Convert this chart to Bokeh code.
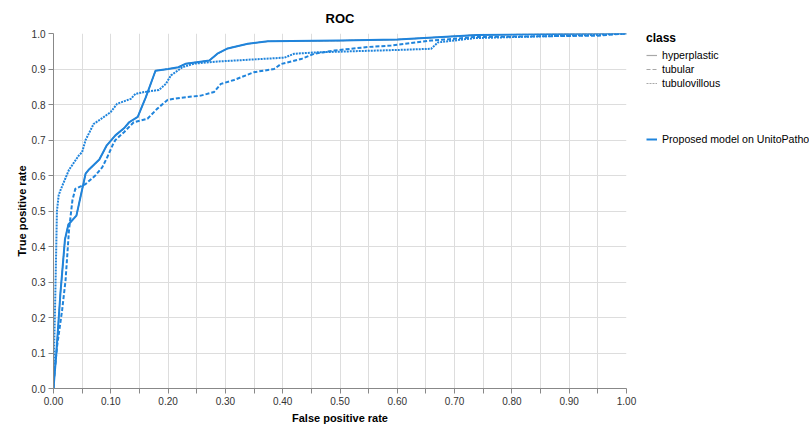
from bokeh.plotting import figure
from bokeh.models import FixedTicker, Legend, LegendItem, Range1d
from bokeh.embed import file_html
from bokeh.resources import INLINE

# ---- data ----
hyper_fpr = [0.0, 0.005, 0.012, 0.02, 0.026, 0.04, 0.056, 0.062, 0.08, 0.093, 0.108, 0.123,
             0.132, 0.147, 0.161, 0.178, 0.2, 0.218, 0.231, 0.272, 0.286, 0.304, 0.339, 0.374,
             0.5, 0.6, 0.74, 0.95, 1.0]
hyper_tpr = [0.0, 0.1, 0.267, 0.42, 0.462, 0.487, 0.605, 0.617, 0.645, 0.685, 0.713, 0.733,
             0.75, 0.765, 0.82, 0.895, 0.9, 0.905, 0.915, 0.924, 0.943, 0.958, 0.971, 0.978,
             0.98, 0.983, 0.996, 1.0, 1.0]

tub_fpr = [0.0, 0.001, 0.006, 0.015, 0.021, 0.027, 0.033, 0.038, 0.056, 0.073, 0.085, 0.094,
           0.103, 0.108, 0.123, 0.14, 0.164, 0.181, 0.199, 0.222, 0.257, 0.28, 0.292, 0.315,
           0.35, 0.385, 0.397, 0.432, 0.455, 0.49, 0.548, 0.589, 0.659, 0.7, 0.734, 0.95, 1.0]
tub_tpr = [0.0, 0.032, 0.116, 0.22, 0.304, 0.445, 0.53, 0.562, 0.576, 0.6, 0.623, 0.652,
           0.685, 0.7, 0.722, 0.75, 0.76, 0.788, 0.813, 0.819, 0.825, 0.835, 0.858, 0.869,
           0.891, 0.9, 0.914, 0.928, 0.943, 0.952, 0.962, 0.966, 0.98, 0.985, 0.99, 0.994, 1.0]

tv_fpr = [0.0, 0.001, 0.003, 0.006, 0.009, 0.012, 0.027, 0.044, 0.05, 0.056, 0.07, 0.088,
          0.1, 0.111, 0.135, 0.143, 0.158, 0.184, 0.196, 0.205, 0.225, 0.245, 0.286, 0.403,
          0.42, 0.461, 0.607, 0.659, 0.671, 0.735, 0.945, 1.0]
tv_tpr = [0.0, 0.107, 0.25, 0.5, 0.544, 0.558, 0.616, 0.656, 0.666, 0.7, 0.745, 0.765,
          0.779, 0.802, 0.816, 0.83, 0.835, 0.841, 0.858, 0.882, 0.905, 0.915, 0.921, 0.932,
          0.943, 0.947, 0.954, 0.957, 0.975, 0.987, 0.996, 1.0]

class_names = ["hyperplastic", "tubular", "tubulovillous"]
model_name = "Proposed model on UnitoPatho"
x_ticks = [round(i * 0.05, 2) for i in range(21)]
x_tick_labels = ["0.00", "", "0.10", "", "0.20", "", "0.30", "", "0.40", "", "0.50", "",
                 "0.60", "", "0.70", "", "0.80", "", "0.90", "", "1.00"]
y_ticks = [round(i * 0.1, 1) for i in range(11)]
y_tick_labels = ["0.0", "0.1", "0.2", "0.3", "0.4", "0.5", "0.6", "0.7", "0.8", "0.9", "1.0"]

BLUE = "#1f84dc"
GRAY = "#a8a8a8"
FONT = "Liberation Sans"
dashes = ["solid", "4 2", "2 1"]

p = figure(frame_width=573, frame_height=355, output_backend="svg", toolbar_location=None,
           x_range=Range1d(0, 1), y_range=Range1d(0, 1),
           min_border_left=53, min_border_right=183, min_border_top=33, min_border_bottom=36)
p.outline_line_color = None
p.background_fill_color = "white"
p.border_fill_color = "white"

p.title.text = "ROC"
p.title.align = "center"
p.title.vertical_align = "bottom"
p.title.text_font = FONT
p.title.text_font_size = "13px"
p.title.text_font_style = "bold"
p.title.text_color = "#000000"
p.title.offset = 0
p.title.standoff = 16

for ax in (p.xaxis[0], p.yaxis[0]):
    ax.axis_line_color = "#888888"
    ax.major_tick_line_color = "#888888"
    ax.minor_tick_line_color = None
    ax.major_tick_out = 5
    ax.major_tick_in = 0
    ax.major_label_text_font = FONT
    ax.major_label_text_font_size = "10px"
    ax.major_label_text_color = "#333333"
    ax.axis_label_text_font = FONT
    ax.axis_label_text_font_size = "11px"
    ax.axis_label_text_font_style = "bold"
    ax.axis_label_text_color = "#000000"

p.xaxis.ticker = FixedTicker(ticks=x_ticks)
p.xaxis.major_label_overrides = {t: l for t, l in zip(x_ticks, x_tick_labels)}
p.xaxis.axis_label = "False positive rate"
p.xaxis.major_label_standoff = 3
p.xaxis.axis_label_standoff = 4

p.yaxis.ticker = FixedTicker(ticks=y_ticks)
p.yaxis.major_label_overrides = {t: l for t, l in zip(y_ticks, y_tick_labels)}
p.yaxis.axis_label = "True positive rate"
p.yaxis.major_label_standoff = 3
p.yaxis.axis_label_standoff = 1

p.xgrid.ticker = FixedTicker(ticks=x_ticks)
p.ygrid.ticker = FixedTicker(ticks=y_ticks)
p.grid.grid_line_color = "#dddddd"
p.grid.grid_line_width = 1

# gray legend-sample lines, drawn first and hidden beneath the solid blue curve
items = []
for name, d in zip(class_names, dashes):
    r = p.line(hyper_fpr, hyper_tpr, line_color=GRAY, line_width=1.2, line_dash=d)
    items.append(LegendItem(label=name, renderers=[r]))

series = [(hyper_fpr, hyper_tpr), (tub_fpr, tub_tpr), (tv_fpr, tv_tpr)]
curve_renderers = []
for (xs, ys), d in zip(series, dashes):
    curve_renderers.append(
        p.line(xs, ys, line_color=BLUE, line_width=2, line_dash=d, line_join="round"))

blank = p.line(x=[], y=[], line_alpha=0)
for _ in range(3):
    items.append(LegendItem(label=" ", renderers=[blank]))
items.append(LegendItem(label=model_name, renderers=[curve_renderers[0]]))

leg = Legend(items=items, location=(20, 242), title="class")
leg.border_line_alpha = 0
leg.background_fill_alpha = 0
leg.padding = 0
leg.margin = 0
leg.spacing = 0
leg.glyph_width = 11
leg.glyph_height = 14
leg.label_height = 14
leg.label_standoff = 5
leg.label_text_font = FONT
leg.label_text_font_size = "10.6px"
leg.label_text_color = "#000000"
leg.label_text_baseline = "middle"
leg.title_text_font = FONT
leg.title_text_font_size = "12px"
leg.title_text_font_style = "bold"
leg.title_text_color = "#000000"
leg.title_standoff = 3
p.add_layout(leg, "right")

open("out.html", "w").write(file_html(p, INLINE))
